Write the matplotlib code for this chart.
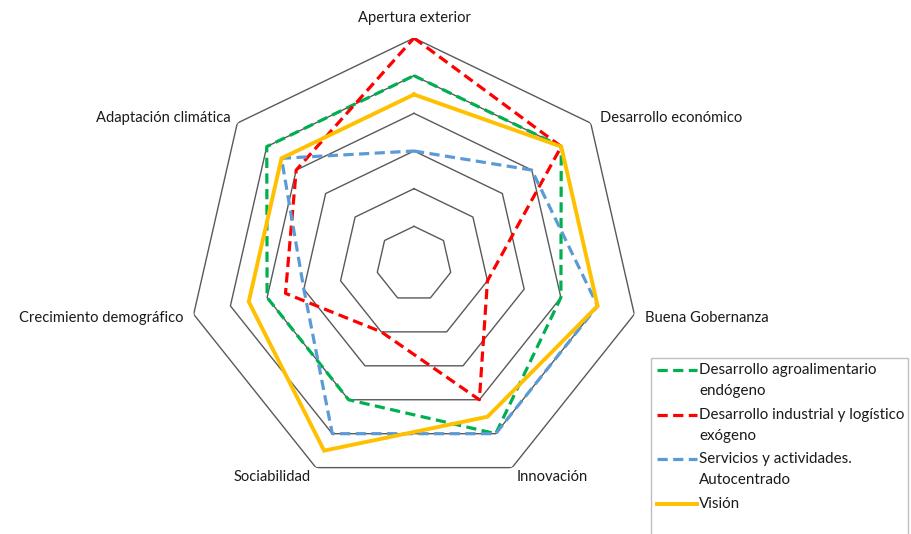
import numpy as np
import matplotlib.pyplot as plt
from matplotlib.lines import Line2D

plt.rcParams['font.family'] = ['Lato', 'DejaVu Sans']

# Ejes del radar, en sentido horario desde arriba
categorias = ["Apertura exterior", "Desarrollo económico", "Buena Gobernanza",
              "Innovación", "Sociabilidad", "Crecimiento demográfico",
              "Adaptación climática"]

agroalimentario = [5, 5, 4, 5, 4, 4, 5]
industrial = [6, 5, 2, 4, 2, 3.5, 4]
servicios = [3, 4, 5, 5, 5, 3, 4.5]
vision = [4.5, 5, 5, 4.5, 5.5, 4.5, 4.5]

nombres = ["Desarrollo agroalimentario\nendógeno",
           "Desarrollo industrial y logístico\nexógeno",
           "Servicios y actividades.\nAutocentrado",
           "Visión"]
niveles = [1, 2, 3, 4, 5, 6]

series = [agroalimentario, industrial, servicios, vision]
colores = ["#00B050", "#FF0000", "#5B9BD5", "#FFC000"]
estilos = [dict(lw=2.3, dashes=(3.2, 1.7)), dict(lw=2.3, dashes=(3.2, 1.7)),
           dict(lw=2.3, dashes=(3.2, 1.7)), dict(lw=2.8)]

n = len(categorias)
ang = np.linspace(0, 2 * np.pi, n, endpoint=False)
ang_c = np.append(ang, ang[0])

fig = plt.figure(figsize=(9.11, 5.34), dpi=100)
ax = fig.add_axes([188 / 911, 44 / 534, 452 / 911, 452 / 534], projection='polar')
ax.set_theta_offset(np.pi / 2)
ax.set_theta_direction(-1)
ax.set_ylim(0, 6)
ax.grid(False)
ax.spines['polar'].set_visible(False)
ax.set_xticks([])
ax.set_yticks([])

# rejilla heptagonal
for r in niveles:
    ax.plot(ang_c, [r] * (n + 1), color="#595959", lw=1.0, zorder=1)

for vals, col, st in zip(series, colores, estilos):
    v = list(vals) + [vals[0]]
    ax.plot(ang_c, v, color=col, zorder=3, solid_joinstyle='miter', **st)

# etiquetas de los ejes
offsets = [(0, 20, 'center'), (9, 5, 'left'), (11, -4, 'left'), (5, -9, 'left'),
           (-5, -9, 'right'), (-10, -4, 'right'), (-7, 5, 'right')]
for a, lab, (dx, dy, ha) in zip(ang, categorias, offsets):
    ax.annotate(lab, xy=(a, 6), xytext=(dx, dy), textcoords='offset pixels',
                ha=ha, va='center', fontsize=10.6, color="#1A1A1A",
                annotation_clip=False)

# leyenda
W, H = 911, 534
caja = plt.Rectangle((651 / W, -0.01), 257 / W, (H - 358) / H + 0.01,
                     transform=fig.transFigure, fill=False,
                     edgecolor="#BFBFBF", lw=1.0)
fig.add_artist(caja)
y0 = 370
filas = [0, 45, 89, 134]
for nom, col, st, dy in zip(nombres, colores, estilos, filas):
    y = (H - (y0 + dy)) / H
    fig.add_artist(Line2D([657 / W, 697 / W], [y, y], transform=fig.transFigure,
                          color=col, **st))
    fig.text(699 / W, y + 7 / H, nom, ha='left', va='top', fontsize=10.9,
             color="#1A1A1A", linespacing=1.6, transform=fig.transFigure)

fig.savefig("out.png", dpi=100)
